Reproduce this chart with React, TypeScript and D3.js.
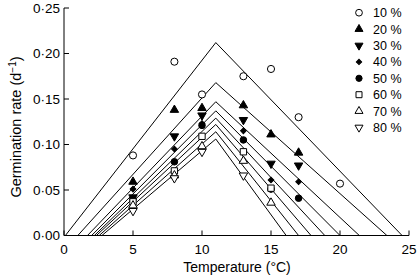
import React from "react";
import * as d3 from "d3";

const W = 418;
const H = 280;

// Temperatures of the measurements (°C)
const temperatures = [5, 8, 10, 13, 15, 17, 20];

// Water potential / humidity categories
const categories = ["10 %", "20 %", "30 %", "40 %", "50 %", "60 %", "70 %", "80 %"];

// Observed germination rates (d^-1), one array per category, null = no point
const rate10 = [0.088, 0.191, 0.155, 0.175, 0.183, 0.130, 0.057];
const rate20 = [0.059, 0.138, 0.140, 0.143, 0.111, 0.091, null];
const rate30 = [0.042, 0.109, 0.132, 0.127, 0.079, 0.077, null];
const rate40 = [0.051, 0.095, 0.123, 0.115, 0.061, 0.059, null];
const rate50 = [0.040, 0.081, 0.121, 0.105, 0.051, 0.041, null];
const rate60 = [0.037, 0.071, 0.109, 0.092, 0.052, null, null];
const rate70 = [0.033, 0.066, 0.098, 0.082, 0.036, null, null];
const rate80 = [0.027, 0.063, 0.092, 0.066, null, null, null];
const observed = [rate10, rate20, rate30, rate40, rate50, rate60, rate70, rate80];

// Fitted thermal-time model parameters per category
const baseTemps = [0.1, 1.0, 1.7, 2.0, 2.2, 2.35, 2.55, 2.75];
const optimumTemp = 11.0;
const peakRates = [0.212, 0.168, 0.147, 0.137, 0.129, 0.122, 0.114, 0.106];
const ceilingTemps = [24.5, 23.4, 21.4, 20.0, 18.9, 17.9, 17.0, 16.1];

// Axis ticks
const xTicks = [0, 5, 10, 15, 20, 25];
const yTicks = [0, 0.05, 0.1, 0.15, 0.2, 0.25];

type Marker = { type: d3.SymbolType; size: number; filled: boolean; rotate: number };
const markers: Marker[] = [
  { type: d3.symbolCircle, size: 40, filled: false, rotate: 0 },
  { type: d3.symbolTriangle, size: 31, filled: true, rotate: 0 },
  { type: d3.symbolTriangle, size: 31, filled: true, rotate: 180 },
  { type: d3.symbolSquare, size: 16, filled: true, rotate: 45 },
  { type: d3.symbolCircle, size: 34, filled: true, rotate: 0 },
  { type: d3.symbolSquare, size: 40, filled: false, rotate: 0 },
  { type: d3.symbolTriangle, size: 31, filled: false, rotate: 0 },
  { type: d3.symbolTriangle, size: 31, filled: false, rotate: 180 },
];

const FONT = "Liberation Sans, Arial, Helvetica, sans-serif";

export default function App() {
  const x = d3.scaleLinear().domain([0, 25]).range([64, 409]);
  const y = d3.scaleLinear().domain([0, 0.25]).range([235.5, 8]);
  const line = d3
    .line<[number, number]>()
    .x((d) => x(d[0]))
    .y((d) => y(d[1]));
  const fmt = (v: number) => v.toFixed(2).replace(".", "·");

  return (
    <svg
      width={W}
      height={H}
      style={{ position: "absolute", left: 0, top: 0, background: "#fff" }}
      fontFamily={FONT}
    >
      <rect x={0} y={0} width={W} height={H} fill="#fff" />
      {/* fitted lines */}
      {baseTemps.map((tb, i) => (
        <path
          key={"l" + i}
          d={
            line([
              [tb, 0],
              [optimumTemp, peakRates[i]],
              [ceilingTemps[i], 0],
            ]) || ""
          }
          fill="none"
          stroke="#000"
          strokeWidth={1}
        />
      ))}
      {/* axes */}
      <line x1={x(0)} x2={x(25)} y1={y(0)} y2={y(0)} stroke="#000" strokeWidth={1} />
      <line x1={x(0)} x2={x(0)} y1={y(0)} y2={y(0.25)} stroke="#000" strokeWidth={1} />
      {xTicks.map((t) => (
        <g key={"xt" + t}>
          <line x1={x(t)} x2={x(t)} y1={y(0)} y2={y(0) - 5} stroke="#000" />
          <text x={x(t)} y={253.5} fontSize={13.5} textAnchor="middle" fill="#000">
            {t}
          </text>
        </g>
      ))}
      {yTicks.map((t) => (
        <g key={"yt" + t}>
          <line x1={x(0)} x2={x(0) + 5} y1={y(t)} y2={y(t)} stroke="#000" />
          <text x={60} y={y(t) + 4.8} fontSize={13.5} textAnchor="end" fill="#000">
            {fmt(t)}
          </text>
        </g>
      ))}
      <text x={237} y={272} fontSize={14} textAnchor="middle" fill="#000">
        Temperature (°C)
      </text>
      <text
        transform="translate(21,127) rotate(-90)"
        fontSize={14.5}
        textAnchor="middle"
        fill="#000"
      >
        Germination rate (d
        <tspan fontSize={10} dy={-5}>
          −1
        </tspan>
        <tspan dy={5}>)</tspan>
      </text>
      {/* observations */}
      {observed.map((series, i) =>
        series.map((v, j) =>
          v == null ? null : (
            <path
              key={"p" + i + "-" + j}
              d={d3.symbol().type(markers[i].type).size(markers[i].size)() || ""}
              transform={`translate(${x(temperatures[j])},${y(v)}) rotate(${markers[i].rotate})`}
              fill={markers[i].filled ? "#000" : "#fff"}
              stroke="#000"
              strokeWidth={1}
            />
          )
        )
      )}
      {/* legend */}
      {categories.map((c, i) => (
        <g key={"lg" + i} transform={`translate(359,${12.7 + i * 16.4})`}>
          <path
            d={d3.symbol().type(markers[i].type).size(markers[i].size * 0.9)() || ""}
            transform={`rotate(${markers[i].rotate})`}
            fill={markers[i].filled ? "#000" : "#fff"}
            stroke="#000"
            strokeWidth={1}
          />
          <text x={14} y={4.5} fontSize={12.5} fill="#000">
            {c}
          </text>
        </g>
      ))}
    </svg>
  );
}
